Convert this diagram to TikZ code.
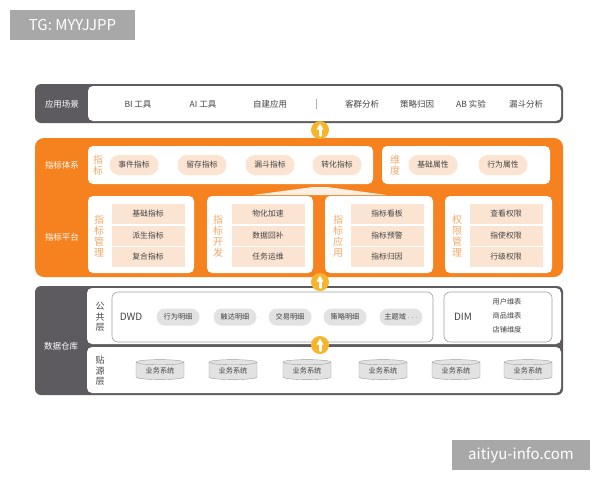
\documentclass[tikz,border=0pt]{standalone}
\usepackage{fontspec}
\setmainfont{Noto Sans CJK SC}
\usetikzlibrary{arrows,shapes.geometric}
\definecolor{dgray}{HTML}{5E5B60}
\definecolor{orng}{HTML}{F5821F}
\definecolor{peach}{HTML}{FBE4D2}
\definecolor{ylw}{HTML}{F6B52B}
\definecolor{lgray}{HTML}{E2E2E2}
\definecolor{wmgray}{HTML}{A8A8A8}
\definecolor{txtc}{HTML}{444444}
\definecolor{olab}{HTML}{F3AA6A}

\begin{document}
\begin{tikzpicture}[line cap=round,line join=round,>=triangle 45,x=1pt,y=-1pt,
	txt/.style={font=\fontsize{8.5}{9}\selectfont,text=txtc,inner sep=0},
	wlab/.style={font=\fontsize{8.5}{9}\selectfont,text=white,inner sep=0},
	vlab/.style={font=\fontsize{10}{11}\selectfont,text=olab,align=center,inner sep=0},
	glab/.style={font=\fontsize{9}{10.5}\selectfont,text=txtc,align=center,inner sep=0},
	pill/.style={fill=peach,rounded corners=9.5,minimum width=49,minimum height=20,inner sep=0,font=\fontsize{7.8}{8}\selectfont,text=txtc},
	cell/.style={fill=peach,minimum width=73,minimum height=20,inner sep=0,font=\fontsize{7.8}{8}\selectfont,text=txtc},
	gpill/.style={fill=lgray,rounded corners=8.5,minimum width=43,minimum height=17,inner sep=0,font=\fontsize{7.2}{8}\selectfont,text=txtc},
	dbase/.style={cylinder,shape border rotate=90,aspect=0.18,draw=gray!75,fill=lgray,minimum width=48,minimum height=20,inner sep=0,font=\fontsize{7.2}{8}\selectfont,text=txtc},
	upbtn/.style={circle,fill=ylw,minimum size=18,inner sep=0},
	wmark/.style={fill=wmgray,text=white,inner sep=0,font=\fontsize{15}{16}\selectfont}]
		\useasboundingbox (0,0) rectangle (600,480);
		% watermarks
		\node [wmark,minimum width=125,minimum height=30] (wmtg) at (72.5,25) {TG: MYYJJPP};
		\node [wmark,minimum width=138,minimum height=30] (wmsite) at (521,455) {aitiyu-info.com};
		% application layer
		\fill [dgray,rounded corners=6] (35,84) rectangle (563,123);
		\fill [white,rounded corners=5] (88,86) rectangle (561,121);
		\node [wlab] (applab) at (62,104) {应用场景};
		\foreach \t/\x [count=\i] in {BI 工具/138,AI 工具/203,自建应用/270,客群分析/362,策略归因/417,AB 实验/471,漏斗分析/526}
			\node [txt] (app\i) at (\x,104) {\t};
		\draw [gray!60,line width=0.6pt] (316,99) -- (316,109);
		% metric platform
		\fill [orng,rounded corners=9] (35,138) rectangle (563,277);
		\node [wlab] (sysl) at (62,165) {指标体系};
		\node [wlab] (platl) at (62,237) {指标平台};
		\fill [white,rounded corners=5] (88,146) rectangle (373,184);
		\fill [white,rounded corners=5] (382,146) rectangle (550,184);
		\fill [peach!60] (253,195) -- (313,187) -- (327,187) -- (387,195) -- cycle;
		\node [vlab] (zbl) at (98,165) {指\\标};
		\foreach \t/\x [count=\i] in {事件指标/134,留存指标/202,漏斗指标/270,转化指标/337}
			\node [pill] (zb\i) at (\x,165) {\t};
		\node [vlab] (wdl) at (395,165) {维\\度};
		\node [pill] (wd1) at (433,165) {基础属性};
		\node [pill] (wd2) at (503,165) {行为属性};
		\foreach \xa/\xb in {88/194,207/313,325/433,445/552}
			\fill [white,rounded corners=5] (\xa,196) rectangle (\xb,273);
		\node [vlab] (mgl) at (99,236) {指\\标\\管\\理};
		\node [vlab] (devl) at (218,236) {指\\标\\开\\发};
		\node [vlab] (usel) at (338,236) {指\\标\\应\\用};
		\node [vlab] (authl) at (457,236) {权\\限\\管\\理};
		\foreach \t/\y [count=\i] in {基础指标/214,派生指标/235.5,复合指标/257}
			\node [cell] (mg\i) at (148,\y) {\t};
		\foreach \t/\y [count=\i] in {物化加速/214,数据回补/235.5,任务运维/257}
			\node [cell] (dev\i) at (268,\y) {\t};
		\foreach \t/\y [count=\i] in {指标看板/214,指标预警/235.5,指标归因/257}
			\node [cell] (use\i) at (387,\y) {\t};
		\foreach \t/\y [count=\i] in {查看权限/214,指使权限/235.5,行级权限/257}
			\node [cell] (auth\i) at (506,\y) {\t};
		% data warehouse
		\fill [dgray,rounded corners=6] (35,286) rectangle (563,395);
		\fill [white,rounded corners=5] (87,288) rectangle (561,344);
		\fill [white,rounded corners=5] (87,347) rectangle (561,393);
		\node [wlab] (dwl) at (61,346) {数据仓库};
		\node [glab] (publ) at (100,317) {公\\共\\层};
		\node [glab] (srcl) at (100,371) {贴\\源\\层};
		\draw [gray!75,line width=0.6pt,rounded corners=6] (112,292) rectangle (433,342);
		\draw [gray!75,line width=0.6pt,rounded corners=6] (444,292) rectangle (552,342);
		\node [txt,font=\fontsize{10}{11}\selectfont] (dwd) at (131,317) {DWD};
		\foreach \t/\x [count=\i] in {行为明细/178,触达明细/235,交易明细/290,策略明细/345,主题域 $\cdots$/401}
			\node [gpill] (dwd\i) at (\x,317) {\t};
		\node [txt,font=\fontsize{10}{11}\selectfont] (dim) at (463,317) {DIM};
		\node [txt,font=\fontsize{7.2}{8}\selectfont] (dim1) at (507,302) {用户维表};
		\node [txt,font=\fontsize{7.2}{8}\selectfont] (dim2) at (507,316) {商品维表};
		\node [txt,font=\fontsize{7.2}{8}\selectfont] (dim3) at (507,330) {店铺维度};
		\foreach \x [count=\i] in {160,233,307,383,456,528}
			\node [dbase] (db\i) at (\x,371) {业务系统};
		% up arrows
		\foreach \y [count=\i] in {130,282,345} {
			\node [upbtn] (up\i) at (320,\y) {};
			\draw [white,line width=3pt] ([yshift=-5.5pt]up\i.center) -- ([yshift=1pt]up\i.center);
			\fill [white] ([xshift=-3.5pt,yshift=0.5pt]up\i.center) -- ([yshift=6.5pt]up\i.center) -- ([xshift=3.5pt,yshift=0.5pt]up\i.center) -- cycle;
		}
\end{tikzpicture}
\end{document}
